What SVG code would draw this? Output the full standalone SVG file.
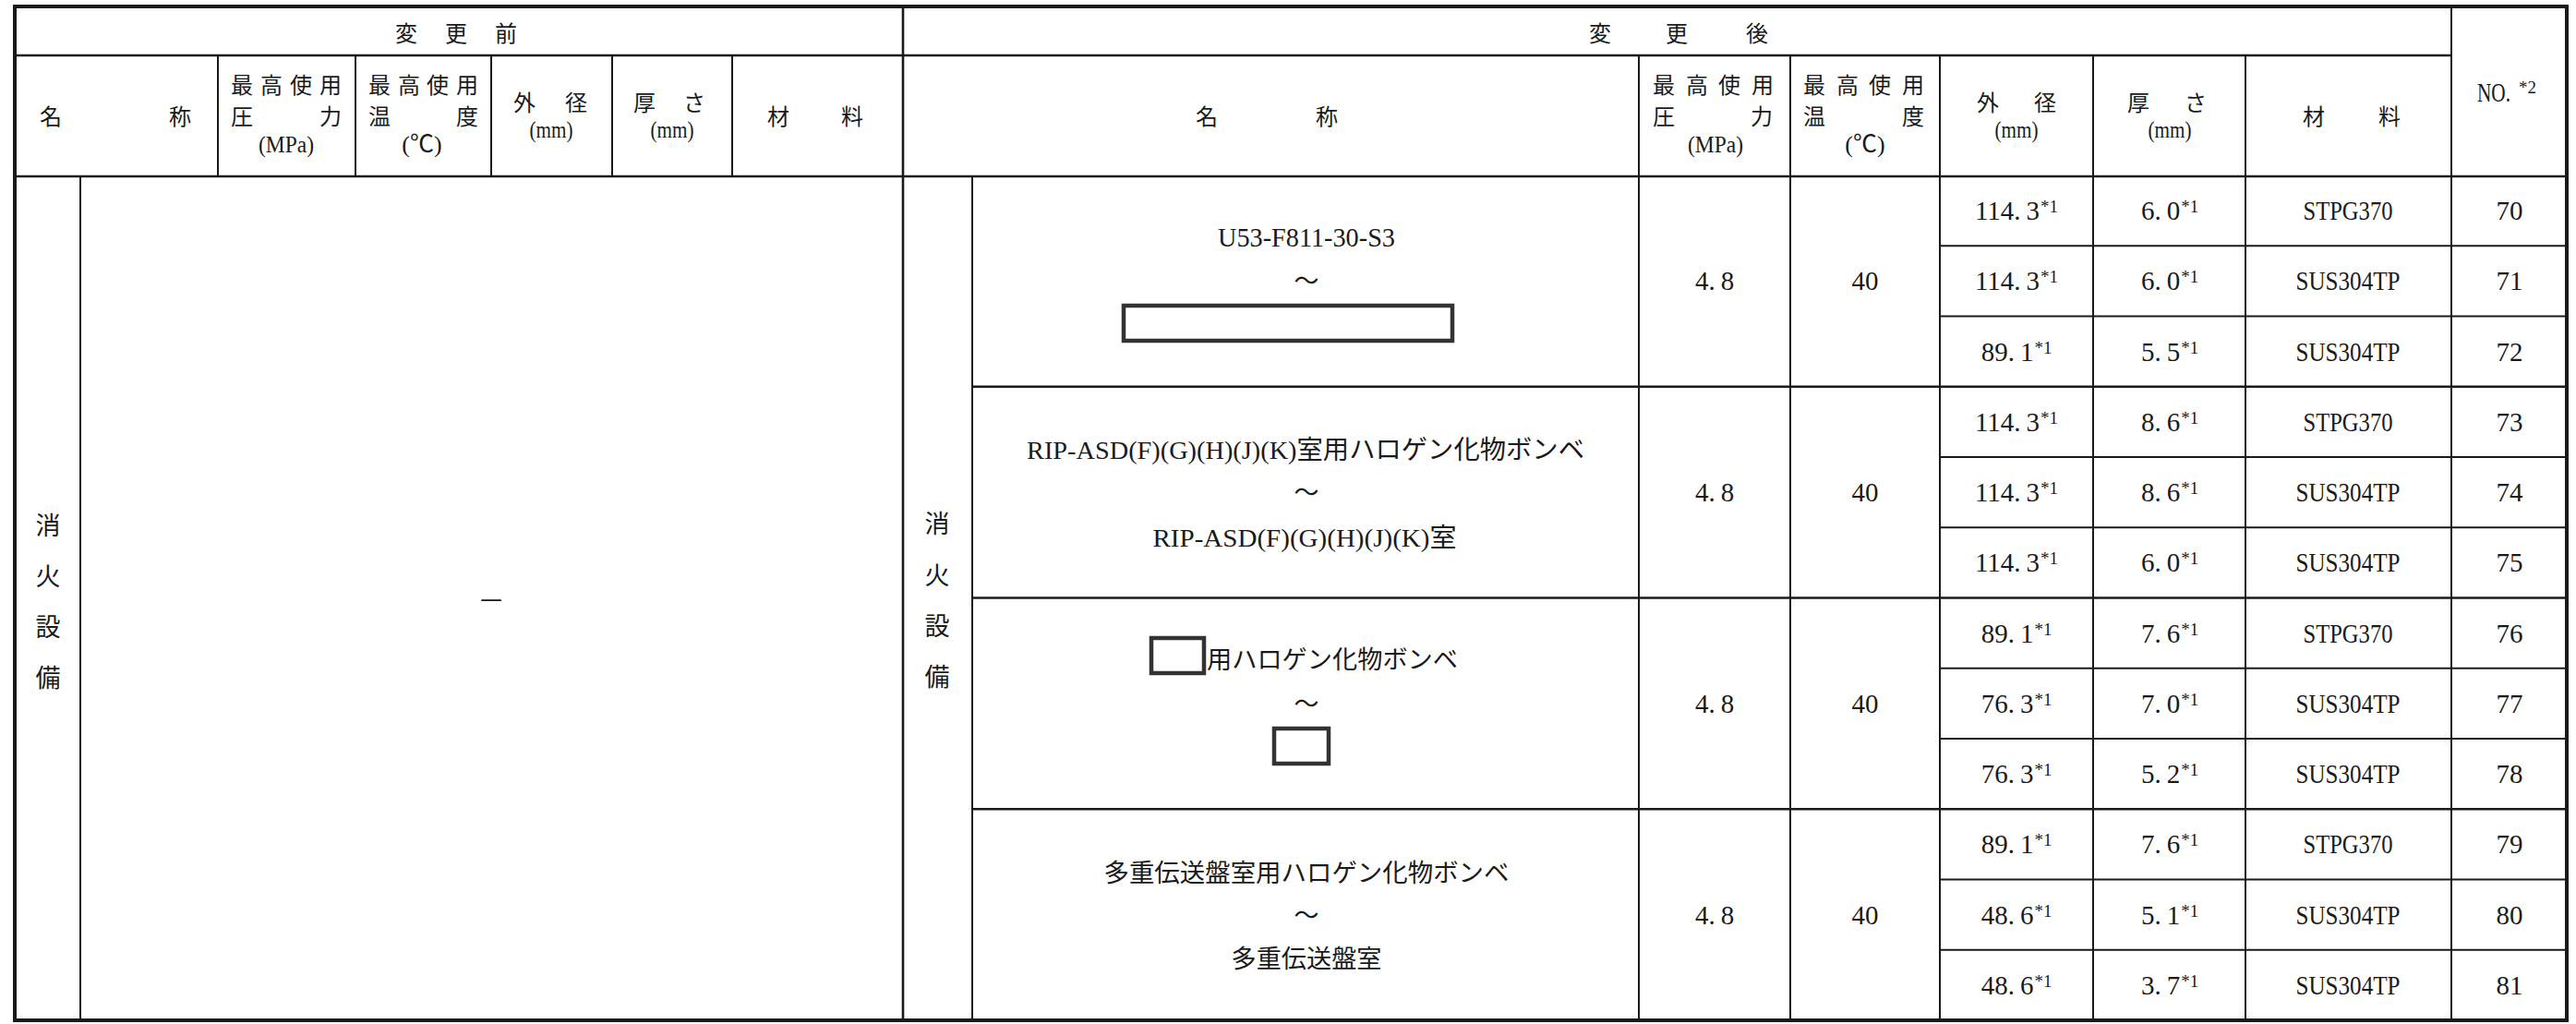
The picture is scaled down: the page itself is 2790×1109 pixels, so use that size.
<svg xmlns="http://www.w3.org/2000/svg" width="2790" height="1109" viewBox="0 0 2790 1109">
<style>
text{font-family:'Liberation Serif','Noto Sans CJK JP',serif;fill:#1a1a1a;}
.j{font-family:'Noto Sans CJK JP',sans-serif;}
.h{font-size:24px;}
.hl{font-size:26px;}
.b{font-size:27px;}
.n{font-size:29px;}
.bm{font-size:28px;}
.m{text-anchor:middle;}
.sup{font-size:19px;}
.ln{stroke:#1a1a1a;stroke-width:2;fill:none;}
.lb{stroke:#1a1a1a;stroke-width:2.6;fill:none;}
.box{fill:#fff;stroke:#333;stroke-width:4.5;}
</style>
<rect x="0" y="0" width="2790" height="1109" fill="#fff"/>
<g id="grid">
<rect x="16" y="7" width="2764" height="1098" fill="none" stroke="#1a1a1a" stroke-width="4"/>
<line class="lb" x1="16" y1="60" x2="2655" y2="60"/>
<line class="lb" x1="16" y1="191" x2="2780" y2="191"/>
<line class="lb" x1="978" y1="7" x2="978" y2="1105"/>
<line class="ln" x1="2655" y1="7" x2="2655" y2="1105"/>
<line class="ln" x1="236" y1="60" x2="236" y2="191"/>
<line class="ln" x1="385" y1="60" x2="385" y2="191"/>
<line class="ln" x1="532" y1="60" x2="532" y2="191"/>
<line class="ln" x1="663" y1="60" x2="663" y2="191"/>
<line class="ln" x1="793" y1="60" x2="793" y2="191"/>
<line class="ln" x1="87" y1="191" x2="87" y2="1105"/>
<line class="ln" x1="1053" y1="191" x2="1053" y2="1105"/>
<line class="ln" x1="1775" y1="60" x2="1775" y2="1105"/>
<line class="ln" x1="1939" y1="60" x2="1939" y2="1105"/>
<line class="ln" x1="2101" y1="60" x2="2101" y2="1105"/>
<line class="ln" x1="2267" y1="60" x2="2267" y2="1105"/>
<line class="ln" x1="2432" y1="60" x2="2432" y2="1105"/>
<line class="lb" x1="1053" y1="418.75" x2="2780" y2="418.75"/>
<line class="lb" x1="1053" y1="647.5" x2="2780" y2="647.5"/>
<line class="lb" x1="1053" y1="876.25" x2="2780" y2="876.25"/>
<line class="ln" x1="2101" y1="266.25" x2="2780" y2="266.25"/>
<line class="ln" x1="2101" y1="342.5" x2="2780" y2="342.5"/>
<line class="ln" x1="2101" y1="495" x2="2780" y2="495"/>
<line class="ln" x1="2101" y1="571.25" x2="2780" y2="571.25"/>
<line class="ln" x1="2101" y1="723.75" x2="2780" y2="723.75"/>
<line class="ln" x1="2101" y1="800" x2="2780" y2="800"/>
<line class="ln" x1="2101" y1="952.5" x2="2780" y2="952.5"/>
<line class="ln" x1="2101" y1="1028.75" x2="2780" y2="1028.75"/>
</g>
<g id="hdr-before">
<text class="j h m" x="440 494 548" y="45">変更前</text>
<text class="j h m" x="55 195" y="135">名称</text>
<text class="j h m" x="262 294 326 358" y="101">最高使用</text>
<text class="j h m" x="262 358" y="135">圧力</text>
<text class="hl m" x="310" y="165" textLength="60" lengthAdjust="spacingAndGlyphs">(MPa)</text>
<text class="j h m" x="411 443 474 506" y="101">最高使用</text>
<text class="j h m" x="411 506" y="135">温度</text>
<text class="hl m" x="457" y="165">(℃)</text>
<text class="j h m" x="568 624" y="120">外径</text>
<text class="hl m" x="597" y="149" textLength="47" lengthAdjust="spacingAndGlyphs">(mm)</text>
<text class="j h m" x="698 752" y="120">厚さ</text>
<text class="hl m" x="728" y="149" textLength="47" lengthAdjust="spacingAndGlyphs">(mm)</text>
<text class="j h m" x="843 923" y="135">材料</text>
</g>
<g id="hdr-after">
<text class="j h m" x="1733 1816 1903" y="45">変更後</text>
<text class="j h m" x="1307 1437" y="135">名称</text>
<text class="j h m" x="1802 1838 1873 1909" y="101">最高使用</text>
<text class="j h m" x="1802 1908" y="135">圧力</text>
<text class="hl m" x="1858" y="165" textLength="60" lengthAdjust="spacingAndGlyphs">(MPa)</text>
<text class="j h m" x="1965 2001 2036 2072" y="101">最高使用</text>
<text class="j h m" x="1965 2072" y="135">温度</text>
<text class="hl m" x="2020" y="165">(℃)</text>
<text class="j h m" x="2153 2215" y="120">外径</text>
<text class="hl m" x="2184" y="149" textLength="47" lengthAdjust="spacingAndGlyphs">(mm)</text>
<text class="j h m" x="2316 2378" y="120">厚さ</text>
<text class="hl m" x="2350" y="149" textLength="47" lengthAdjust="spacingAndGlyphs">(mm)</text>
<text class="j h m" x="2506 2588" y="135">材料</text>
<text class="n" x="2683" y="110" textLength="36" lengthAdjust="spacingAndGlyphs">NO.</text>
<text class="sup" x="2728" y="101">*2</text>
</g>
<g id="before-body">
<text class="j b m" x="52 52 52 52" y="579 634 689 744">消火設備</text>
<text class="j b m" x="532" y="658">—</text>
</g>
<g id="after-category">
<text class="j b m" x="1015 1015 1015 1015" y="577 633 688 743">消火設備</text>
</g>
<g id="grp1">
<text class="n m" x="1415" y="267" textLength="192" lengthAdjust="spacingAndGlyphs">U53-F811-30-S3</text>
<text class="j b m" x="1415" y="314">～</text>
<rect class="box" x="1217" y="331" width="356" height="38"/>
<text class="n m" x="1857" y="314">4.<tspan dx="6">8</tspan></text>
<text class="n m" x="2020" y="314">40</text>
</g>
<g id="grp2">
<text class="bm m" x="1414" y="497" textLength="604" lengthAdjust="spacingAndGlyphs">RIP-ASD(F)(G)(H)(J)(K)室用ハロゲン化物ボンベ</text>
<text class="j b m" x="1415" y="543">～</text>
<text class="bm m" x="1413" y="592" textLength="329" lengthAdjust="spacingAndGlyphs">RIP-ASD(F)(G)(H)(J)(K)室</text>
<text class="n m" x="1857" y="543">4.<tspan dx="6">8</tspan></text>
<text class="n m" x="2020" y="543">40</text>
</g>
<g id="grp3">
<rect class="box" x="1247" y="691" width="57" height="38"/>
<text class="j b" x="1307" y="724" textLength="272" lengthAdjust="spacingAndGlyphs">用ハロゲン化物ボンベ</text>
<text class="j b m" x="1415" y="772">～</text>
<rect class="box" x="1380" y="789" width="59" height="38"/>
<text class="n m" x="1857" y="772">4.<tspan dx="6">8</tspan></text>
<text class="n m" x="2020" y="772">40</text>
</g>
<g id="grp4">
<text class="j b m" x="1415" y="955" textLength="439" lengthAdjust="spacingAndGlyphs">多重伝送盤室用ハロゲン化物ボンベ</text>
<text class="j b m" x="1415" y="1001">～</text>
<text class="j b m" x="1415" y="1048" textLength="163" lengthAdjust="spacingAndGlyphs">多重伝送盤室</text>
<text class="n m" x="1857" y="1001">4.<tspan dx="6">8</tspan></text>
<text class="n m" x="2020" y="1001">40</text>
</g>
<g id="row70"><text class="n m" x="2184" y="238">114.<tspan dx="6">3</tspan><tspan class="sup" dx="1" dy="-8">*1</tspan></text><text class="n m" x="2350" y="238">6.<tspan dx="6">0</tspan><tspan class="sup" dx="1" dy="-8">*1</tspan></text><text class="n m" x="2543" y="238" textLength="97" lengthAdjust="spacingAndGlyphs">STPG370</text><text class="n m" x="2718" y="238">70</text></g>
<g id="row71"><text class="n m" x="2184" y="314.25">114.<tspan dx="6">3</tspan><tspan class="sup" dx="1" dy="-8">*1</tspan></text><text class="n m" x="2350" y="314.25">6.<tspan dx="6">0</tspan><tspan class="sup" dx="1" dy="-8">*1</tspan></text><text class="n m" x="2543" y="314.25" textLength="113" lengthAdjust="spacingAndGlyphs">SUS304TP</text><text class="n m" x="2718" y="314.25">71</text></g>
<g id="row72"><text class="n m" x="2184" y="390.5">89.<tspan dx="6">1</tspan><tspan class="sup" dx="1" dy="-8">*1</tspan></text><text class="n m" x="2350" y="390.5">5.<tspan dx="6">5</tspan><tspan class="sup" dx="1" dy="-8">*1</tspan></text><text class="n m" x="2543" y="390.5" textLength="113" lengthAdjust="spacingAndGlyphs">SUS304TP</text><text class="n m" x="2718" y="390.5">72</text></g>
<g id="row73"><text class="n m" x="2184" y="466.75">114.<tspan dx="6">3</tspan><tspan class="sup" dx="1" dy="-8">*1</tspan></text><text class="n m" x="2350" y="466.75">8.<tspan dx="6">6</tspan><tspan class="sup" dx="1" dy="-8">*1</tspan></text><text class="n m" x="2543" y="466.75" textLength="97" lengthAdjust="spacingAndGlyphs">STPG370</text><text class="n m" x="2718" y="466.75">73</text></g>
<g id="row74"><text class="n m" x="2184" y="543">114.<tspan dx="6">3</tspan><tspan class="sup" dx="1" dy="-8">*1</tspan></text><text class="n m" x="2350" y="543">8.<tspan dx="6">6</tspan><tspan class="sup" dx="1" dy="-8">*1</tspan></text><text class="n m" x="2543" y="543" textLength="113" lengthAdjust="spacingAndGlyphs">SUS304TP</text><text class="n m" x="2718" y="543">74</text></g>
<g id="row75"><text class="n m" x="2184" y="619.25">114.<tspan dx="6">3</tspan><tspan class="sup" dx="1" dy="-8">*1</tspan></text><text class="n m" x="2350" y="619.25">6.<tspan dx="6">0</tspan><tspan class="sup" dx="1" dy="-8">*1</tspan></text><text class="n m" x="2543" y="619.25" textLength="113" lengthAdjust="spacingAndGlyphs">SUS304TP</text><text class="n m" x="2718" y="619.25">75</text></g>
<g id="row76"><text class="n m" x="2184" y="695.5">89.<tspan dx="6">1</tspan><tspan class="sup" dx="1" dy="-8">*1</tspan></text><text class="n m" x="2350" y="695.5">7.<tspan dx="6">6</tspan><tspan class="sup" dx="1" dy="-8">*1</tspan></text><text class="n m" x="2543" y="695.5" textLength="97" lengthAdjust="spacingAndGlyphs">STPG370</text><text class="n m" x="2718" y="695.5">76</text></g>
<g id="row77"><text class="n m" x="2184" y="771.75">76.<tspan dx="6">3</tspan><tspan class="sup" dx="1" dy="-8">*1</tspan></text><text class="n m" x="2350" y="771.75">7.<tspan dx="6">0</tspan><tspan class="sup" dx="1" dy="-8">*1</tspan></text><text class="n m" x="2543" y="771.75" textLength="113" lengthAdjust="spacingAndGlyphs">SUS304TP</text><text class="n m" x="2718" y="771.75">77</text></g>
<g id="row78"><text class="n m" x="2184" y="848">76.<tspan dx="6">3</tspan><tspan class="sup" dx="1" dy="-8">*1</tspan></text><text class="n m" x="2350" y="848">5.<tspan dx="6">2</tspan><tspan class="sup" dx="1" dy="-8">*1</tspan></text><text class="n m" x="2543" y="848" textLength="113" lengthAdjust="spacingAndGlyphs">SUS304TP</text><text class="n m" x="2718" y="848">78</text></g>
<g id="row79"><text class="n m" x="2184" y="924.25">89.<tspan dx="6">1</tspan><tspan class="sup" dx="1" dy="-8">*1</tspan></text><text class="n m" x="2350" y="924.25">7.<tspan dx="6">6</tspan><tspan class="sup" dx="1" dy="-8">*1</tspan></text><text class="n m" x="2543" y="924.25" textLength="97" lengthAdjust="spacingAndGlyphs">STPG370</text><text class="n m" x="2718" y="924.25">79</text></g>
<g id="row80"><text class="n m" x="2184" y="1000.5">48.<tspan dx="6">6</tspan><tspan class="sup" dx="1" dy="-8">*1</tspan></text><text class="n m" x="2350" y="1000.5">5.<tspan dx="6">1</tspan><tspan class="sup" dx="1" dy="-8">*1</tspan></text><text class="n m" x="2543" y="1000.5" textLength="113" lengthAdjust="spacingAndGlyphs">SUS304TP</text><text class="n m" x="2718" y="1000.5">80</text></g>
<g id="row81"><text class="n m" x="2184" y="1076.75">48.<tspan dx="6">6</tspan><tspan class="sup" dx="1" dy="-8">*1</tspan></text><text class="n m" x="2350" y="1076.75">3.<tspan dx="6">7</tspan><tspan class="sup" dx="1" dy="-8">*1</tspan></text><text class="n m" x="2543" y="1076.75" textLength="113" lengthAdjust="spacingAndGlyphs">SUS304TP</text><text class="n m" x="2718" y="1076.75">81</text></g>
</svg>
